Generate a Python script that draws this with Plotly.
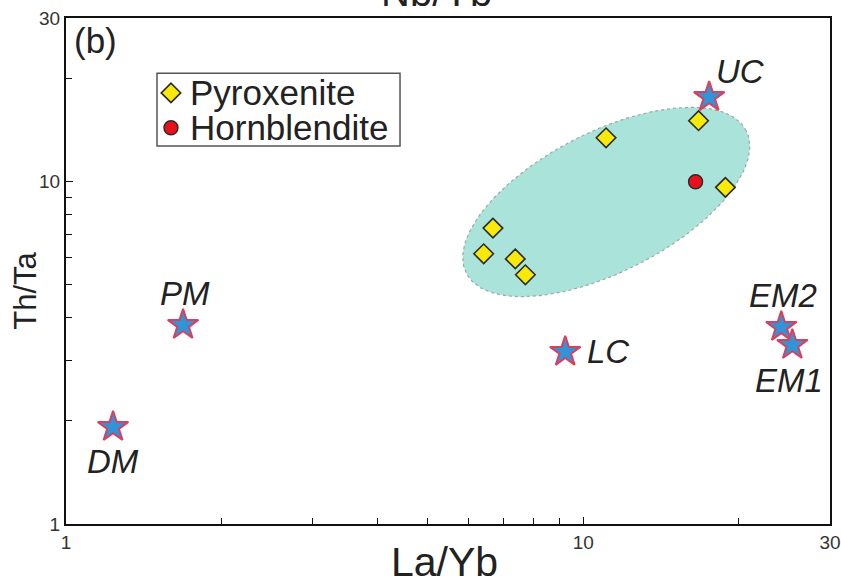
import numpy as np
import plotly.graph_objects as go

# ---------------- data ----------------
pyx_x = [16.71, 11.07, 18.83, 6.69, 6.42, 7.39, 7.73]
pyx_y = [15.04, 13.41, 9.61, 7.31, 6.15, 5.94, 5.34]

hbl_x = [16.49]
hbl_y = [9.98]

ref_names = ["DM", "PM", "LC", "UC", "EM2", "EM1"]
ref_x = [1.233, 1.684, 9.23, 17.52, 24.15, 25.37]
ref_y = [1.919, 3.81, 3.18, 17.63, 3.76, 3.33]

x_tick_vals = [1, 10, 30]
x_tick_text = ["1", "10", "30"]
y_tick_vals = [1, 10, 30]
y_tick_text = ["1", "10", "30"]
minor_vals = [2, 3, 4, 5, 6, 7, 8, 9, 20]

legend_names = ["Pyroxenite", "Hornblendite"]

# field ellipse (centre in data units, conjugate half-axes in log decades)
field_center = (11.08, 8.71)
field_u = (0.2706, 0.208)
field_v = (-0.0615, 0.182)

# ---------------- styles ----------------
PYX_MARKER = dict(symbol="diamond", size=15, color="#f7e90a",
                  line=dict(color="#2a2a2a", width=1.6))
HBL_MARKER = dict(symbol="circle", size=14, color="#e8101a",
                  line=dict(color="#2a2a2a", width=1.4))
FONT = "Liberation Sans"

fig = go.Figure()

t = np.linspace(0, 2 * np.pi, 181)
lx = np.log10(field_center[0]) + field_u[0] * np.cos(t) + field_v[0] * np.sin(t)
ly = np.log10(field_center[1]) + field_u[1] * np.cos(t) + field_v[1] * np.sin(t)
fig.add_trace(go.Scatter(
    x=10 ** lx, y=10 ** ly, mode="lines", fill="toself",
    fillcolor="#a9e3d9", line=dict(color="#9aa8a6", width=1.2, dash="dot"),
    showlegend=False, hoverinfo="skip"))

fig.add_trace(go.Scatter(x=pyx_x, y=pyx_y, mode="markers", name=legend_names[0],
                         marker=PYX_MARKER, showlegend=False))
fig.add_trace(go.Scatter(x=hbl_x, y=hbl_y, mode="markers", name=legend_names[1],
                         marker=HBL_MARKER, showlegend=False))

fig.add_trace(go.Scatter(
    x=ref_x, y=ref_y, mode="markers", showlegend=False,
    marker=dict(symbol="star", size=23, color="#2f95d8",
                line=dict(color="#d9405e", width=2))))

label_shift = {"DM": (0, -34), "PM": (2, 32), "LC": (43, 0),
               "UC": (31, 26), "EM2": (2, 31), "EM1": (-3, -35)}
for n, xv, yv in zip(ref_names, ref_x, ref_y):
    dx, dy = label_shift[n]
    fig.add_annotation(x=np.log10(xv), y=np.log10(yv), xref="x", yref="y",
                       text="<i>" + n + "</i>", showarrow=False, xshift=dx, yshift=dy,
                       font=dict(family=FONT, size=33, color="#222"))

# ---------------- hand-built legend box (overlay axis in [0,1]) ----------------
leg_x0, leg_x1, leg_y0, leg_y1 = 0.1191, 0.4372, 0.747, 0.891
leg_sym_x = 0.1374
leg_rows_y = [0.852, 0.783]
leg_text_x = 0.160
fig.add_shape(type="rect", xref="paper", yref="paper",
              x0=leg_x0, x1=leg_x1, y0=leg_y0, y1=leg_y1,
              line=dict(color="#555", width=1.5), fillcolor="white", layer="below")
fig.add_trace(go.Scatter(x=[leg_sym_x], y=[leg_rows_y[0]], mode="markers",
                         marker=PYX_MARKER, xaxis="x2", yaxis="y2",
                         showlegend=False, hoverinfo="skip"))
fig.add_trace(go.Scatter(x=[leg_sym_x], y=[leg_rows_y[1]], mode="markers",
                         marker=HBL_MARKER, xaxis="x2", yaxis="y2",
                         showlegend=False, hoverinfo="skip"))
for nm, yy in zip(legend_names, leg_rows_y):
    fig.add_annotation(x=leg_text_x, y=yy, xref="paper", yref="paper",
                       xanchor="left", yanchor="middle", text=nm, showarrow=False,
                       font=dict(family=FONT, size=35, color="#222"))

# ---------------- other texts ----------------
fig.add_annotation(x=0.008, y=0.998, xref="paper", yref="paper",
                   xanchor="left", yanchor="top", text="(b)", showarrow=False,
                   font=dict(family=FONT, size=35, color="#222"))

fig.add_annotation(x=0.485, y=1.004, xref="paper", yref="paper",
                   xanchor="center", yanchor="bottom", text="Nb/Yb", showarrow=False,
                   font=dict(family=FONT, size=40, color="#222"))

fig.add_annotation(x=0.495, y=-0.026, xref="paper", yref="paper",
                   xanchor="center", yanchor="top", text="La/Yb", showarrow=False,
                   font=dict(family=FONT, size=41, color="#222"))

fig.add_annotation(x=-0.053, y=0.46, xref="paper", yref="paper",
                   xanchor="center", yanchor="middle", text="Th/Ta", showarrow=False,
                   textangle=-90,
                   font=dict(family=FONT, size=31, color="#222"))

axis_common = dict(
    type="log", showgrid=False, zeroline=False, automargin=False,
    showline=True, linecolor="#111", linewidth=2, mirror=True,
    ticks="inside", ticklen=7, tickwidth=1.3, tickcolor="#111",
    tickfont=dict(family=FONT, size=19, color="#333"),
    minor=dict(tickvals=minor_vals, ticks="inside", ticklen=6,
               tickwidth=1.3, tickcolor="#111", showgrid=False),
)

fig.update_xaxes(range=[0, np.log10(30)], tickvals=x_tick_vals,
                 ticktext=x_tick_text, **axis_common)
fig.update_yaxes(range=[0, np.log10(30)], tickvals=y_tick_vals,
                 ticktext=y_tick_text, **axis_common)

fig.update_layout(
    width=841, height=583,
    margin=dict(l=66, r=11, t=18, b=59),
    paper_bgcolor="white", plot_bgcolor="white",
    showlegend=False,
    xaxis2=dict(overlaying="x", range=[0, 1], visible=False, fixedrange=True),
    yaxis2=dict(overlaying="y", range=[0, 1], visible=False, fixedrange=True),
)

fig.write_html("out.html")
